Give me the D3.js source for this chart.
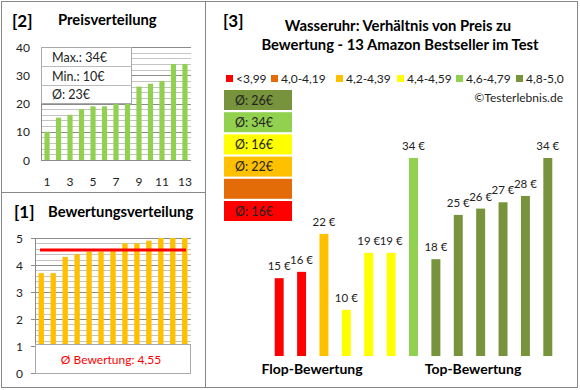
<!DOCTYPE html>
<html>
<head>
<meta charset="utf-8">
<script src="https://cdn.jsdelivr.net/npm/d3@7"></script>
<style>
  body { margin: 0; background: #fff; }
  svg { display: block; font-family: Lato, "Open Sans", sans-serif; }
</style>
</head>
<body>
<div id="chart"></div>
<script>
/* data */
var preise = [10, 15, 16, 18, 19, 19, 22, 25, 26, 27, 28, 34, 34];
var bewertungen = [3.7, 3.7, 4.3, 4.4, 4.5, 4.5, 4.6, 4.8, 4.8, 4.9, 5.0, 5.0, 5.0];
// products of panel [3], ordered from flop to top
var produktPreise = [15, 16, 22, 10, 19, 19, 34, 18, 25, 26, 27, 28, 34];
var produktKlasse = [0, 0, 2, 3, 3, 3, 4, 5, 5, 5, 5, 5, 5];
var klassen = ["<3,99", "4,0-4,19", "4,2-4,39", "4,4-4,59", "4,6-4,79", "4,8-5,0"];
var klassenFarben = ["#ff0000", "#e36c09", "#ffc000", "#ffff00", "#92d050", "#77933c"];
var preisTicks = [0, 10, 20, 30, 40];
var bewTicks = [0, 1, 2, 3, 4, 5];
var xTickLabels = [1, 3, 5, 7, 9, 11, 13];

var W = 580, H = 390;
var svg = d3.select("#chart").append("svg").attr("width", W).attr("height", H);

// panel frames
svg.append("rect").attr("x", 1.5).attr("y", 1.5).attr("width", 204).attr("height", 191)
  .attr("fill", "none").attr("stroke", "#888");
svg.append("rect").attr("x", 1.5).attr("y", 192.5).attr("width", 204).attr("height", 195)
  .attr("fill", "none").attr("stroke", "#888");
svg.append("rect").attr("x", 205.5).attr("y", 1.5).attr("width", 372).attr("height", 386)
  .attr("fill", "none").attr("stroke", "#888");

/* [2] Preisverteilung */
svg.append("text").attr("x", 12).attr("y", 27).attr("font-size", 17).attr("font-weight", "bold").text("[2]");
svg.append("text").attr("x", 58).attr("y", 25).attr("font-size", 14.8).attr("font-weight", "bold").text("Preisverteilung");

var x2 = d3.scaleBand().domain(d3.range(1, 14)).range([41, 191]).paddingInner(0.55).paddingOuter(0.3);
var y2 = d3.scaleLinear().domain([0, 40]).range([160, 47]);

var g2 = svg.append("g");
g2.selectAll("line.grid").data(d3.range(2, 41, 2)).enter().append("line")
  .attr("x1", 41).attr("x2", 191)
  .attr("y1", (d) => Math.round(y2(d)) + 0.5).attr("y2", (d) => Math.round(y2(d)) + 0.5)
  .attr("stroke", (d) => (d % 10 === 0 ? "#8c8c8c" : "#c4c4c4"));
g2.append("line").attr("x1", 41.5).attr("x2", 41.5).attr("y1", 47).attr("y2", 160.5).attr("stroke", "#8c8c8c");
g2.append("line").attr("x1", 41).attr("x2", 191).attr("y1", 160.5).attr("y2", 160.5).attr("stroke", "#8c8c8c");

g2.selectAll("rect.bar").data(preise).enter().append("rect")
  .attr("x", (d, i) => x2(i + 1))
  .attr("width", x2.bandwidth())
  .attr("y", (d) => y2(d))
  .attr("height", (d) => y2(0) - y2(d))
  .attr("fill", "#92d050");

g2.selectAll("text.yl").data(preisTicks).enter().append("text")
  .attr("x", 30).attr("y", (d) => y2(d) + 4.5).attr("text-anchor", "end")
  .attr("font-size", 12).attr("fill", "#222").text((d) => d);
g2.selectAll("text.xl").data(xTickLabels).enter().append("text")
  .attr("x", (d) => x2(d) + x2.bandwidth() / 2).attr("y", 186).attr("text-anchor", "middle")
  .attr("font-size", 12).attr("fill", "#222").text((d) => d);

// info box
var infoTexte = [
  "Max.: " + d3.max(preise) + "€",
  "Min.: " + d3.min(preise) + "€",
  "Ø: " + Math.round(d3.mean(preise)) + "€"
];
var box = g2.append("g");
box.append("rect").attr("x", 41.5).attr("y", 47.5).attr("width", 90).attr("height", 56)
  .attr("fill", "#fff").attr("stroke", "#aaa");
box.selectAll("line").data([66.5, 85.5]).enter().append("line")
  .attr("x1", 41.5).attr("x2", 131.5).attr("y1", (d) => d).attr("y2", (d) => d).attr("stroke", "#bbb");
box.selectAll("text").data(infoTexte).enter().append("text")
  .attr("x", 52).attr("y", (d, i) => 62 + i * 18.5)
  .attr("font-size", 12.5).attr("fill", "#222").text((d) => d);

/* [1] Bewertungsverteilung */
svg.append("text").attr("x", 14).attr("y", 218).attr("font-size", 17).attr("font-weight", "bold").text("[1]");
svg.append("text").attr("x", 48).attr("y", 217).attr("font-size", 14.8).attr("font-weight", "bold").text("Bewertungsverteilung");

var x1 = d3.scaleBand().domain(d3.range(1, 14)).range([35, 191]).paddingInner(0.55).paddingOuter(0.3);
var y1 = d3.scaleLinear().domain([0, 5]).range([373, 238]);

var g1 = svg.append("g");
g1.selectAll("line.grid").data(d3.range(1, 26).map((d) => d / 5)).enter().append("line")
  .attr("x1", 35).attr("x2", 191)
  .attr("y1", (d) => Math.round(y1(d)) + 0.5).attr("y2", (d) => Math.round(y1(d)) + 0.5)
  .attr("stroke", (d) => (Math.abs(d - Math.round(d)) < 0.01 ? "#8c8c8c" : "#c4c4c4"));
g1.append("line").attr("x1", 35.5).attr("x2", 35.5).attr("y1", 238).attr("y2", 373.5).attr("stroke", "#8c8c8c");
g1.selectAll("line.tick").data(bewTicks).enter().append("line")
  .attr("x1", 31).attr("x2", 35)
  .attr("y1", (d) => Math.round(y1(d)) + 0.5).attr("y2", (d) => Math.round(y1(d)) + 0.5)
  .attr("stroke", "#8c8c8c");

g1.selectAll("rect.bar").data(bewertungen).enter().append("rect")
  .attr("x", (d, i) => x1(i + 1))
  .attr("width", x1.bandwidth())
  .attr("y", (d) => y1(d))
  .attr("height", (d) => y1(0) - y1(d))
  .attr("fill", "#ffc000");

var mittel = d3.mean(bewertungen);
g1.append("line").attr("x1", 40).attr("x2", 186)
  .attr("y1", y1(mittel)).attr("y2", y1(mittel))
  .attr("stroke", "#ff0000").attr("stroke-width", 3);

g1.selectAll("text.yl").data(bewTicks).enter().append("text")
  .attr("x", 23).attr("y", (d) => y1(d) + 4.5).attr("text-anchor", "end")
  .attr("font-size", 12).attr("fill", "#222").text((d) => d);

g1.append("rect").attr("x", 35.5).attr("y", 344.5).attr("width", 155).attr("height", 29)
  .attr("fill", "#fff").attr("stroke", "#aaa");
g1.append("text").attr("x", 111).attr("y", 364).attr("text-anchor", "middle")
  .attr("font-size", 12).attr("fill", "#ff0000")
  .text("Ø Bewertung: " + mittel.toFixed(2).replace(".", ","));

/* [3] Preis zu Bewertung */
svg.append("text").attr("x", 223).attr("y", 27).attr("font-size", 17).attr("font-weight", "bold").text("[3]");
svg.append("text").attr("x", 398).attr("y", 31).attr("text-anchor", "middle")
  .attr("font-size", 14.8).attr("font-weight", "bold").text("Wasseruhr: Verhältnis von Preis zu");
svg.append("text").attr("x", 400).attr("y", 50).attr("text-anchor", "middle")
  .attr("font-size", 14.8).attr("font-weight", "bold").text("Bewertung - 13 Amazon Bestseller im Test");

// legend
var legX = [226, 271, 336, 397, 456, 516];
var leg = svg.selectAll("g.leg").data(klassen).enter().append("g")
  .attr("transform", (d, i) => "translate(" + legX[i] + ",75)");
leg.append("rect").attr("width", 7).attr("height", 7).attr("fill", (d, i) => klassenFarben[i]);
leg.append("text").attr("x", 10).attr("y", 8).attr("font-size", 12).attr("fill", "#222").text((d) => d);

svg.append("text").attr("x", 563).attr("y", 102).attr("text-anchor", "end")
  .attr("font-size", 12).attr("fill", "#222").text("©Testerlebnis.de");

// average boxes, top class first
var klassenOben = d3.range(klassen.length).reverse();
var avgBox = svg.selectAll("g.avg").data(klassenOben).enter().append("g")
  .attr("transform", (d, i) => "translate(224," + (90 + i * 22.2) + ")");
avgBox.append("rect").attr("width", 68).attr("height", 20).attr("fill", (k) => klassenFarben[k]);
avgBox.append("text").attr("x", 11).attr("y", 14.5).attr("font-size", 12.5).attr("fill", "#222")
  .text(function (k) {
    var werte = produktPreise.filter((p, i) => produktKlasse[i] === k);
    return werte.length ? "Ø: " + Math.round(d3.mean(werte)) + "€" : "";
  });

var x3 = d3.scaleBand().domain(d3.range(13)).range([268, 559]).paddingInner(0.6).paddingOuter(0.3);
var y3 = d3.scaleLinear().domain([2.7, 34]).range([356, 158]);

svg.selectAll("rect.pbar").data(produktPreise).enter().append("rect")
  .attr("x", (d, i) => x3(i))
  .attr("width", x3.bandwidth())
  .attr("y", (d) => y3(d))
  .attr("height", (d) => y3(2.7) - y3(d))
  .attr("fill", (d, i) => klassenFarben[produktKlasse[i]]);

svg.selectAll("text.plab").data(produktPreise).enter().append("text")
  .attr("x", (d, i) => x3(i) + x3.bandwidth() / 2)
  .attr("y", (d) => y3(d) - 8)
  .attr("text-anchor", "middle").attr("font-size", 11.5).attr("fill", "#222")
  .text((d) => d + " €");

svg.append("text").attr("x", 312).attr("y", 374).attr("text-anchor", "middle")
  .attr("font-size", 14).attr("font-weight", "bold").text("Flop-Bewertung");
svg.append("text").attr("x", 473).attr("y", 374).attr("text-anchor", "middle")
  .attr("font-size", 14).attr("font-weight", "bold").text("Top-Bewertung");
</script>
</body>
</html>
